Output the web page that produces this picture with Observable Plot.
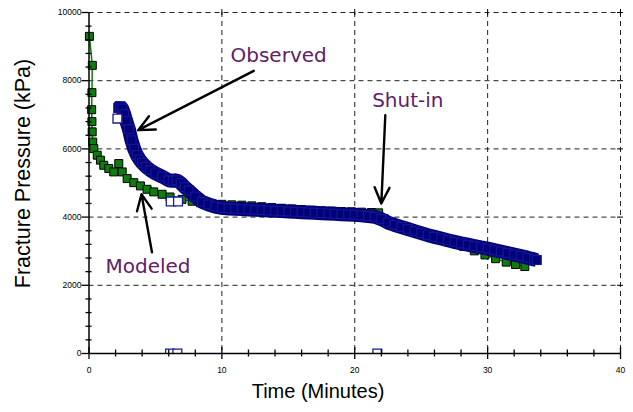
<!DOCTYPE html>
<html>
<head>
<meta charset="utf-8">
<script src="https://cdn.jsdelivr.net/npm/d3@7"></script>
<script src="https://cdn.jsdelivr.net/npm/@observablehq/plot@0.6"></script>
<style>
  html, body { margin: 0; padding: 0; background: #fff; }
  #chart svg { display: block; }
</style>
</head>
<body>
<div id="chart"></div>
<script>
// Modeled fracture pressure (kPa) against time (minutes)
const modeledTime = [0.03, 0.25, 0.22, 0.2, 0.22, 0.24, 0.28, 0.36, 0.62, 0.86, 1.11, 1.49, 1.86, 2.24, 2.5, 2.87,
  3.37, 3.87, 4.37, 4.87, 5.5, 6.1, 7.0, 7.76, 8.4, 9.2, 10, 10.75, 11.5, 12.25, 13, 13.75, 14.5, 15.25, 16, 16.75,
  17.5, 18.25, 19, 19.75, 20.5, 21.25, 21.8, 22.2, 22.8, 23.5, 24.2, 25, 25.8, 26.6, 27.4, 28.2, 29, 29.8, 30.6,
  31.4, 32.1, 32.8];
const modeledPressure = [9300, 8450, 7650, 7150, 6800, 6500, 6200, 6010, 5815, 5670, 5520, 5425, 5325, 5570, 5325, 5130,
  5010, 4915, 4815, 4740, 4670, 4590, 4520, 4465, 4420, 4395, 4375, 4360, 4350, 4330, 4305, 4280, 4260, 4240, 4220, 4200,
  4185, 4175, 4165, 4155, 4145, 4135, 4125, 3960, 3850, 3750, 3650, 3550, 3460, 3370, 3260, 3140, 3010, 2890, 2780,
  2680, 2610, 2550];

// Observed fracture pressure (kPa) against time (minutes)
const observedTime = [2.2, 2.35, 2.5, 2.65, 2.8, 3.0, 3.2, 3.4, 3.6, 3.8, 4.0, 4.3, 4.6, 5.0, 5.5, 6.0, 6.3, 6.6, 6.9,
  7.2, 7.5, 8.0, 8.5, 9.0, 9.5, 10, 10.5, 11, 11.5, 12, 12.5, 13, 13.5, 14, 14.5, 15, 15.5, 16, 16.5, 17, 17.5, 18,
  18.5, 19, 19.5, 20, 20.5, 21, 21.5, 22, 22.5, 23, 23.5, 24, 24.5, 25, 25.5, 26, 26.5, 27, 27.5, 28, 28.5, 29, 29.5,
  30, 30.5, 31, 31.5, 32, 32.5, 33, 33.5, 33.7];
const observedPressure = [7200, 7250, 7180, 7020, 6820, 6580, 6250, 6000, 5820, 5690, 5590, 5470, 5380, 5280, 5190, 5080,
  5060, 5080, 5000, 4880, 4780, 4600, 4450, 4370, 4310, 4270, 4255, 4245, 4235, 4225, 4215, 4205, 4195, 4185, 4175,
  4165, 4155, 4145, 4135, 4125, 4115, 4105, 4095, 4085, 4078, 4070, 4050, 4030, 4010, 3940, 3840, 3770, 3710, 3650,
  3590, 3530, 3470, 3420, 3370, 3320, 3275, 3230, 3190, 3150, 3110, 3075, 3030, 2990, 2945, 2900, 2855, 2810, 2760, 2740];

// Stray observed readings (gauge dropouts and isolated samples)
const strayTime = [2.14, 6.15, 6.7, 6.1, 6.65, 21.7];
const strayPressure = [6890, 4460, 4460, 0, 0, 0];

// Tick values
const xMajorTicks = [0, 10, 20, 30, 40];
const xMinorTicks = [2, 4, 6, 8, 12, 14, 16, 18, 22, 24, 26, 28, 32, 34, 36, 38];
const yMajorTicks = [0, 2000, 4000, 6000, 8000, 10000];
const yMinorTicks = [400, 800, 1200, 1600, 2400, 2800, 3200, 3600, 4400, 4800, 5200, 5600,
  6400, 6800, 7200, 7600, 8400, 8800, 9200, 9600];

// Callouts
const calloutText = ["Observed", "Shut-in", "Modeled"];
const calloutTime = [10.65, 21.31, 1.24];
const calloutPressure = [8725, 7427, 2552];
const arrowFromTime = [12.4, 22.3, 4.74];
const arrowFromPressure = [8290, 6990, 2970];
const arrowToTime = [3.7, 22.0, 3.95];
const arrowToPressure = [6550, 4400, 4670];

const modeled = modeledTime.map((t, i) => ({t, p: modeledPressure[i]}));
const observed = observedTime.map((t, i) => ({t, p: observedPressure[i]}));
const strays = strayTime.map((t, i) => ({t, p: strayPressure[i]}));
const callouts = calloutText.map((text, i) => ({text, t: calloutTime[i], p: calloutPressure[i]}));
const arrows = arrowFromTime.map((t1, i) => ({
  t1, p1: arrowFromPressure[i], t2: arrowToTime[i], p2: arrowToPressure[i]
}));

const navy = "#00007b";
const green = "#0d7d0d";
const purple = "#5f2069";
const tickFont = "Liberation Sans, Arial, sans-serif";

const chart = Plot.plot({
  width: 633,
  height: 412,
  marginLeft: 88.5,
  marginRight: 13,
  marginTop: 12,
  marginBottom: 59,
  style: {background: "#fff", fontFamily: tickFont, color: "#000"},
  x: {domain: [0, 40]},
  y: {domain: [0, 10000]},
  marks: [
    // dashed grid, including the top and right borders
    Plot.gridX({ticks: [10, 20, 30, 40], stroke: "#222", strokeOpacity: 1, strokeWidth: 1, strokeDasharray: "5,4"}),
    Plot.gridY({ticks: [2000, 4000, 6000, 8000, 10000], stroke: "#222", strokeOpacity: 1, strokeWidth: 1, strokeDasharray: "5,4"}),

    // modeled series
    Plot.line(modeled, {x: "t", y: "p", stroke: green, strokeWidth: 1.5}),
    Plot.dot(modeled, {x: "t", y: "p", symbol: "square", r: 4.5, fill: green, stroke: "#000", strokeWidth: 1}),

    // observed series: dense readings form a solid band of open squares
    Plot.line(observed, {x: "t", y: "p", stroke: navy, strokeWidth: 14, curve: "linear",
      strokeLinecap: "butt", strokeLinejoin: "bevel"}),
    Plot.dot(observed, {x: "t", y: "p", symbol: "square", r: 5, fill: navy, stroke: "#151590", strokeWidth: 1.2}),
    Plot.dot(strays, {x: "t", y: "p", symbol: "square", r: 5, fill: "#fff", stroke: "#1a1a9a", strokeWidth: 1.3, clip: true}),

    // axis lines
    Plot.ruleX([0], {stroke: "#000", strokeWidth: 1.5}),
    Plot.ruleY([0], {stroke: "#000", strokeWidth: 1.5}),

    // x ticks (crossing the axis)
    Plot.ruleX(xMajorTicks, {x: d => d, y1: 0, y2: 0, insetTop: -6, insetBottom: -6, stroke: "#000", strokeWidth: 1.3}),
    Plot.ruleX(xMinorTicks, {x: d => d, y1: 0, y2: 0, insetTop: -3.5, insetBottom: -3.5, stroke: "#000", strokeWidth: 1.3}),
    // y ticks
    Plot.ruleY(yMajorTicks, {y: d => d, x1: 0, x2: 0, insetLeft: -7, insetRight: 0, stroke: "#000", strokeWidth: 1.3}),
    Plot.ruleY(yMinorTicks, {y: d => d, x1: 0, x2: 0, insetLeft: -3, insetRight: -3, stroke: "#000", strokeWidth: 1.3}),
    // small ticks on the top and right borders
    Plot.ruleX([10, 20, 30, 40], {x: d => d, y1: 10000, y2: 10000, insetTop: -3, insetBottom: -3, stroke: "#000", strokeWidth: 1}),
    Plot.ruleY([2000, 4000, 6000, 8000, 10000], {y: d => d, x1: 40, x2: 40, insetLeft: -3, insetRight: -3, stroke: "#000", strokeWidth: 1}),

    // tick labels
    Plot.axisX({ticks: xMajorTicks, tickSize: 0, tickPadding: 13, fontSize: 8.5, label: null, tickFormat: d => String(d)}),
    Plot.axisY({ticks: yMajorTicks, tickSize: 0, tickPadding: 7.5, fontSize: 8.5, label: null, tickFormat: d => String(d)}),

    // axis titles
    Plot.text(["Time (Minutes)"], {frameAnchor: "bottom", textAnchor: "middle", dx: -36.75, dy: 44.6, fontSize: 20,
      fill: "#000", fontFamily: tickFont}),
    Plot.text(["Fracture Pressure (kPa)"], {frameAnchor: "left", textAnchor: "middle", rotate: -90, dx: -66, dy: -9.5,
      fontSize: 21.5, fill: "#000", fontFamily: tickFont}),

    // callouts
    Plot.arrow(arrows, {x1: "t1", y1: "p1", x2: "t2", y2: "p2", stroke: "#000", strokeWidth: 2.4,
      headLength: 11, headAngle: 50}),
    Plot.text(callouts, {x: "t", y: "p", text: "text", textAnchor: "start", fontSize: 20, fill: purple,
      fontFamily: "DejaVu Sans, Verdana, sans-serif"})
  ]
});

document.getElementById("chart").appendChild(chart);
</script>
</body>
</html>
